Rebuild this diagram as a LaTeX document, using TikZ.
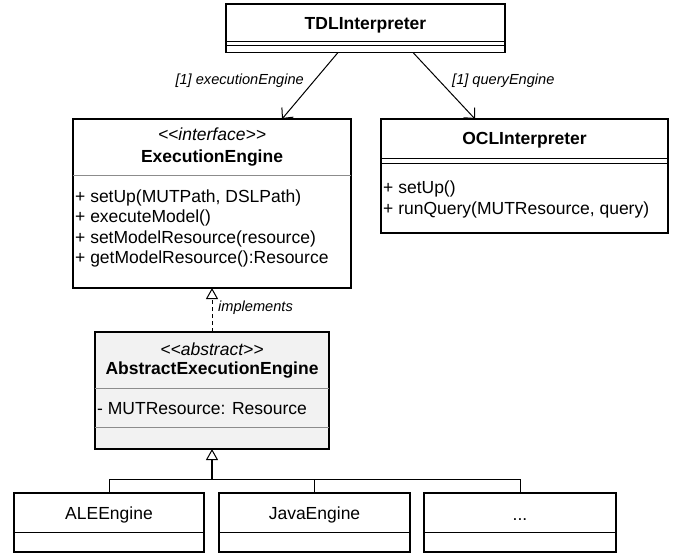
\documentclass[tikz,border=0pt]{standalone}
\usepackage{fontspec}
\setmainfont{Liberation Sans}
\usetikzlibrary{arrows.meta}
\begin{document}
\begin{tikzpicture}[x=1pt,y=-1pt,
  box/.style={draw, line width=1.2pt, anchor=north west, inner sep=0pt, outer sep=0pt},
  txt/.style={font=\fontsize{17.5}{20}\selectfont, inner sep=0pt, anchor=base},
  bold/.style={txt, font=\fontsize{17.5}{20}\selectfont\bfseries},
  stereo/.style={txt, font=\fontsize{17.5}{20}\selectfont\itshape},
  op/.style={txt, anchor=base west},
  lbl/.style={font=\fontsize{14.6}{17}\selectfont\itshape, inner sep=1pt},
  gsep/.style={line width=1pt, black!45},
  bsep/.style={line width=1pt, black},
  assoc/.style={line width=1pt, -{Straight Barb[length=8pt,width=15pt]}},
  inh/.style={-{Triangle[open,length=11pt,width=12pt,fill=white,line width=1pt]}}
]
\useasboundingbox (0,0) rectangle (682,554);

% TDLInterpreter
\node[box, minimum width=279pt, minimum height=48.5pt] (tdl) at (226,4) {};
\draw[bsep] ([yshift=-37pt]tdl.north west) -- ([yshift=-37pt]tdl.north east);
\draw[bsep] ([yshift=-41.5pt]tdl.north west) -- ([yshift=-41.5pt]tdl.north east);
\node[bold] (tdlname) at (365.5,29) {TDLInterpreter};

% ExecutionEngine
\node[box, minimum width=278pt, minimum height=169pt] (ee) at (73,119) {};
\draw[gsep] ([yshift=-56pt]ee.north west) -- ([yshift=-56pt]ee.north east);
\node[stereo] (eest) at (212,140) {{<}{<}interface{>}{>}};
\node[bold] (eename) at (212,162) {ExecutionEngine};
\node[op] (eeo1) at (75,202) {+ setUp(MUTPath, DSLPath)};
\node[op] (eeo2) at (75,222.5) {+ executeModel()};
\node[op] (eeo3) at (75,243) {+ setModelResource(resource)};
\node[op] (eeo4) at (75,263.5) {+ getModelResource():Resource};

% OCLInterpreter
\node[box, minimum width=287pt, minimum height=114pt] (ocl) at (381,119) {};
\draw[bsep] ([yshift=-39pt]ocl.north west) -- ([yshift=-39pt]ocl.north east);
\draw[bsep] ([yshift=-44pt]ocl.north west) -- ([yshift=-44pt]ocl.north east);
\node[bold] (oclname) at (524.5,144) {OCLInterpreter};
\node[op] (oclo1) at (383,193) {+ setUp()};
\node[op] (oclo2) at (383,214) {+ runQuery(MUTResource, query)};

% AbstractExecutionEngine
\node[box, fill=black!5, minimum width=234pt, minimum height=117pt] (aee) at (95,332) {};
\draw[gsep] ([yshift=-56pt]aee.north west) -- ([yshift=-56pt]aee.north east);
\draw[gsep] ([yshift=-95pt]aee.north west) -- ([yshift=-95pt]aee.north east);
\node[stereo] (aeest) at (212,355) {{<}{<}abstract{>}{>}};
\node[bold] (aeename) at (212,374) {AbstractExecutionEngine};
\node[op] (aeea1) at (97,414) {- MUTResource: Resource};

% Concrete engines
\node[box, minimum width=190pt, minimum height=59pt] (ale) at (14,493) {};
\node[box, minimum width=191pt, minimum height=59pt] (java) at (219,493) {};
\node[box, minimum width=192pt, minimum height=59pt] (dots) at (424,493) {};
\foreach \b in {ale,java,dots}{
  \draw[line width=0.8pt] ([yshift=-39pt]\b.north west) -- ([yshift=-39pt]\b.north east);
}
\node[txt] (alet) at (109,519) {ALEEngine};
\node[txt] (javat) at (314.5,519) {JavaEngine};
\node[txt] (dotst) at (520,520) {...};

% Associations
\draw[assoc] ([xshift=-27.5pt]tdl.south) -- ([xshift=70pt]ee.north);
\draw[assoc] ([xshift=47.5pt]tdl.south) -- ([xshift=-49.5pt]ocl.north);
\node[lbl, anchor=east] (l1) at (305,81) {[1] executionEngine};
\node[lbl, anchor=west] (l2) at (451,81) {[1] queryEngine};

% Implements
\draw[inh, line width=1pt, dash pattern=on 4pt off 3pt] (aee.north) -- (ee.south);
\node[lbl, anchor=west, fill=white] (l3) at (217,308) {implements};

% Inheritance
\coordinate (j) at (212,479);
\draw[inh, line width=2pt] (j) -- (aee.south);
\draw[line width=1pt] (ale.north) |- (j);
\draw[line width=1pt] (dots.north) |- (j);
\draw[line width=1pt] (java.north) -- (java.north |- j);
\end{tikzpicture}
\end{document}
